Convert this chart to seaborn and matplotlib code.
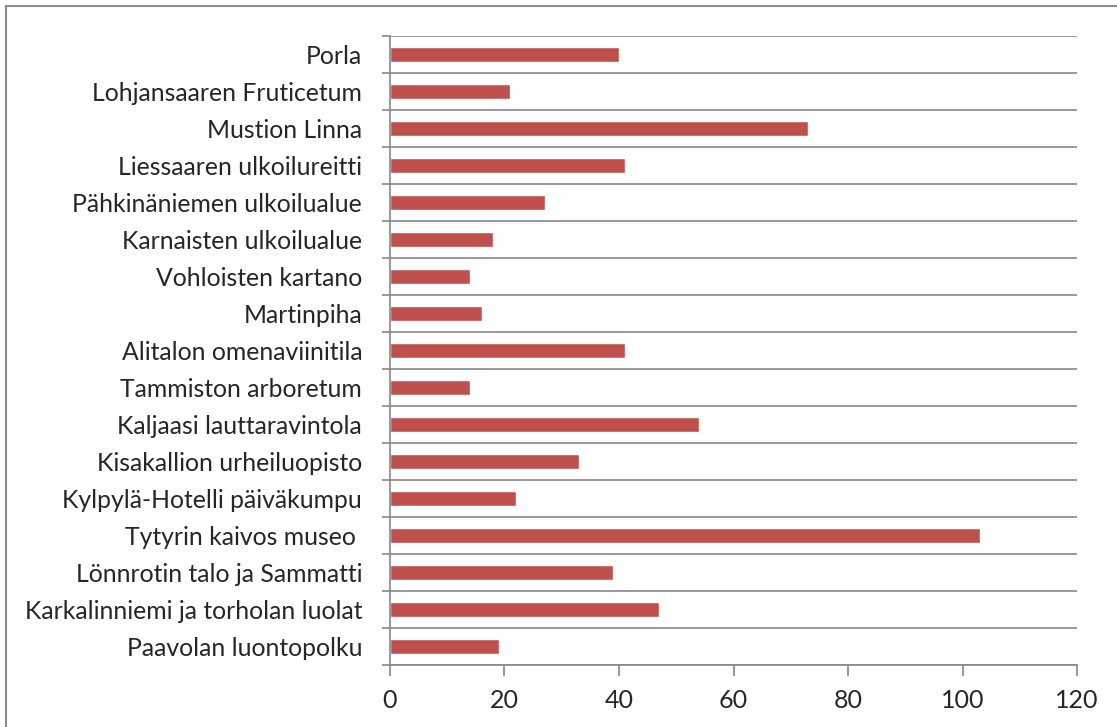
import matplotlib
matplotlib.use('Agg')
import matplotlib.pyplot as plt
import seaborn as sns
import pandas as pd
from matplotlib.patches import Rectangle

# Kohteet ja arvot (ylhäältä alas)
kohteet = ['Porla', 'Lohjansaaren Fruticetum', 'Mustion Linna',
           'Liessaaren ulkoilureitti', 'Pähkinäniemen ulkoilualue',
           'Karnaisten ulkoilualue', 'Vohloisten kartano', 'Martinpiha',
           'Alitalon omenaviinitila', 'Tammiston arboretum',
           'Kaljaasi lauttaravintola', 'Kisakallion urheiluopisto',
           'Kylpylä-Hotelli päiväkumpu', 'Tytyrin kaivos museo ',
           'Lönnrotin talo ja Sammatti', 'Karkalinniemi ja torholan luolat',
           'Paavolan luontopolku']
arvot = [40, 21, 73, 41, 27, 18, 14, 16, 41, 14, 54, 33, 22, 103, 39, 47, 19]
x_ticks = [0, 20, 40, 60, 80, 100, 120]

df = pd.DataFrame({'Kohde': kohteet, 'Arvo': arvot})

sns.set_style('white')
plt.rcParams['font.family'] = ['Lato', 'DejaVu Sans']

fig = plt.figure(figsize=(11.17, 7.27), dpi=100)
ax = fig.add_axes([390/1117, 1 - 665/727, 687/1117, 629/727])

sns.barplot(data=df, x='Arvo', y='Kohde', orient='h', color='#C0504D',
            saturation=1, width=0.43, ax=ax)

grey = '#888888'
n = len(kohteet)
for i in range(n + 1):
    ax.axhline(i - 0.5, color=grey, lw=1.2, zorder=0)

ax.set_xlim(0, 120)
ax.set_ylim(n - 0.5, -0.5)
ax.set_xticks(x_ticks)
ax.set_xticklabels([str(t) for t in x_ticks])
ax.set_xlabel('')
ax.set_ylabel('')

# y-akselin tikit kategorioiden rajoilla
ax.set_yticks([i - 0.5 for i in range(n + 1)], minor=True)
ax.tick_params(axis='y', which='minor', length=6, color=grey, width=1.2,
               direction='out', left=True)
ax.tick_params(axis='y', which='major', length=0, labelsize=17.8, pad=20)
ax.tick_params(axis='x', length=8, color=grey, width=1.2, labelsize=18,
               pad=9, bottom=True)

for s in ['top', 'right']:
    ax.spines[s].set_visible(False)
for s in ['left', 'bottom']:
    ax.spines[s].set_color(grey)
    ax.spines[s].set_linewidth(1.2)

# kaavion reunus
fig.patches.append(Rectangle((6/1117, -0.5), 2, 1.5 - 6/727,
                             transform=fig.transFigure, fill=False,
                             edgecolor='#8c8c8c', lw=1.5))

fig.savefig('out.png', dpi=100)
